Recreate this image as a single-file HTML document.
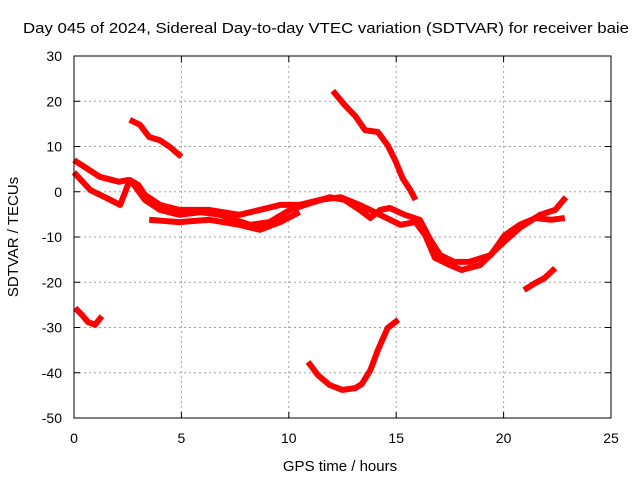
<!DOCTYPE html>
<html><head><meta charset="utf-8"><style>
body{margin:0;background:#fff}
svg{display:block;font-family:"Liberation Sans",sans-serif}
</style></head><body>
<svg id="chart" width="640" height="480">
<text x="326" y="33" font-size="15" text-anchor="middle" textLength="606" lengthAdjust="spacingAndGlyphs">Day 045 of 2024, Sidereal Day-to-day VTEC variation (SDTVAR) for receiver baie</text>
<text x="340" y="471" font-size="15" text-anchor="middle">GPS time / hours</text>
<text transform="translate(18,237) rotate(-90)" font-size="15" text-anchor="middle">SDTVAR / TECUs</text>
<g id="grid"></g>
<g id="ticks"></g>
<g id="series"></g>
<rect x="74" y="56" width="537" height="362" fill="none" stroke="#000" stroke-width="1"/>
</svg>
<script>
const xTicks=[0,5,10,15,20,25];
const yTicks=[-50,-40,-30,-20,-10,0,10,20,30];
const sA_x=[2.6,3.07,3.5,4.0,4.47,5.0];
const sA_y=[15.9,14.8,12.1,11.4,9.9,7.7];
const sB_x=[12.05,12.6,13.1,13.55,14.15,14.6,14.95,15.3,15.65,15.9];
const sB_y=[22.3,19.2,16.7,13.6,13.2,10.3,7.0,3.0,0.4,-1.8];
const sC_x=[10.9,11.35,11.9,12.5,13.1,13.4,13.8,14.15,14.6,15.1];
const sC_y=[-37.6,-40.5,-42.7,-43.8,-43.4,-42.5,-39.4,-35,-30.1,-28.3];
const sD_x=[0.05,0.37,0.65,0.98,1.3];
const sD_y=[-25.7,-27.2,-28.8,-29.4,-27.5];
const sE_x=[20.95,21.46,21.9,22.4];
const sE_y=[-21.7,-20.2,-19.1,-16.9];
const sF_x=[0,1.2,2.1,2.5,2.8,3.3,4.0,4.9,5.9,6.8,7.5,8.2,9.1,10.05,11.0,11.9,12.6,13.3,13.8,14.25,14.7,15.4,16.1,16.6,17.05,17.7,18.4,19.4,20.05,20.75,21.5,22.2,22.85];
const sF_y=[7,3.3,2.2,2.6,1.5,-1.8,-4,-5.1,-4.5,-5.1,-6.2,-7.3,-6.7,-4,-2.5,-1.2,-1.8,-4,-5.8,-4,-3.6,-5.1,-6.2,-10.7,-14,-15.5,-15.5,-14,-9.6,-7.3,-5.8,-6.2,-5.8];
const sG_x=[0,0.75,1.7,2.15,2.6,3.0,3.3,4.0,4.9,6.3,7.7,8.65,9.6,10.5,11.45,12.4,13.3,14.25,15.2,15.9,16.35,16.8,17.5,18.05,18.9,19.85,20.75,21.7,22.4,22.9];
const sG_y=[4.3,0.4,-1.8,-2.9,2.6,1.5,-0.7,-2.9,-4,-4,-5.1,-4,-2.9,-2.9,-1.8,-1.2,-2.9,-5.1,-7.3,-6.7,-9.6,-14.6,-16.2,-17.3,-16.2,-11.8,-8,-5.1,-4,-1.2];
const sH_x=[3.5,4.9,6.3,7.7,8.65,9.6,10.5];
const sH_y=[-6.2,-6.7,-6.2,-7.3,-8.4,-6.7,-4.5];

const X0=74,X1=611,Y0=418,Y1=56;
const sx=v=>X0+(v-0)/25*(X1-X0);
const sy=v=>Y0-(v+50)/80*(Y0-Y1);
const NS='http://www.w3.org/2000/svg';
const grid=document.getElementById('grid'),ticks=document.getElementById('ticks'),ser=document.getElementById('series');
function mk(t,a,p){const e=document.createElementNS(NS,t);for(const k in a)e.setAttribute(k,a[k]);p.appendChild(e);return e;}
xTicks.forEach(v=>{const x=sx(v);
 if(v>0&&v<25){const l=mk('line',{x1:x,x2:x,y1:Y1,y2:Y0,stroke:'#a0a0a0','stroke-dasharray':'2,3'},grid);
 
 }
 mk('line',{x1:x,x2:x,y1:Y0,y2:Y0-6,stroke:'#000'},ticks);mk('line',{x1:x,x2:x,y1:Y1,y2:Y1+6,stroke:'#000'},ticks);
 const t=mk('text',{x:x,y:443,'font-size':14,'text-anchor':'middle'},ticks);t.textContent=v;
 
 });
yTicks.forEach(v=>{const y=sy(v);
 if(v>-50&&v<30){const l=mk('line',{x1:X0,x2:X1,y1:y,y2:y,stroke:'#a0a0a0','stroke-dasharray':'2,3'},grid);
 
 }
 mk('line',{x1:X0,x2:X0+6,y1:y,y2:y,stroke:'#000'},ticks);mk('line',{x1:X1,x2:X1-6,y1:y,y2:y,stroke:'#000'},ticks);
 const t=mk('text',{x:62,y:y+5,'font-size':14,'text-anchor':'end'},ticks);t.textContent=v;
 
 });
const all=[[sA_x,sA_y],[sB_x,sB_y],[sC_x,sC_y],[sD_x,sD_y],[sE_x,sE_y],[sF_x,sF_y],[sG_x,sG_y],[sH_x,sH_y]];
all.forEach((s,i)=>{const pts=s[0].map((x,j)=>sx(x).toFixed(1)+','+sy(s[1][j]).toFixed(1)).join(' ');
 const p=mk('polyline',{points:pts,fill:'none',stroke:'#ff0000','stroke-width':6,'stroke-linejoin':'round','stroke-linecap':'butt'},ser);
 
 });
</script>
</body></html>
